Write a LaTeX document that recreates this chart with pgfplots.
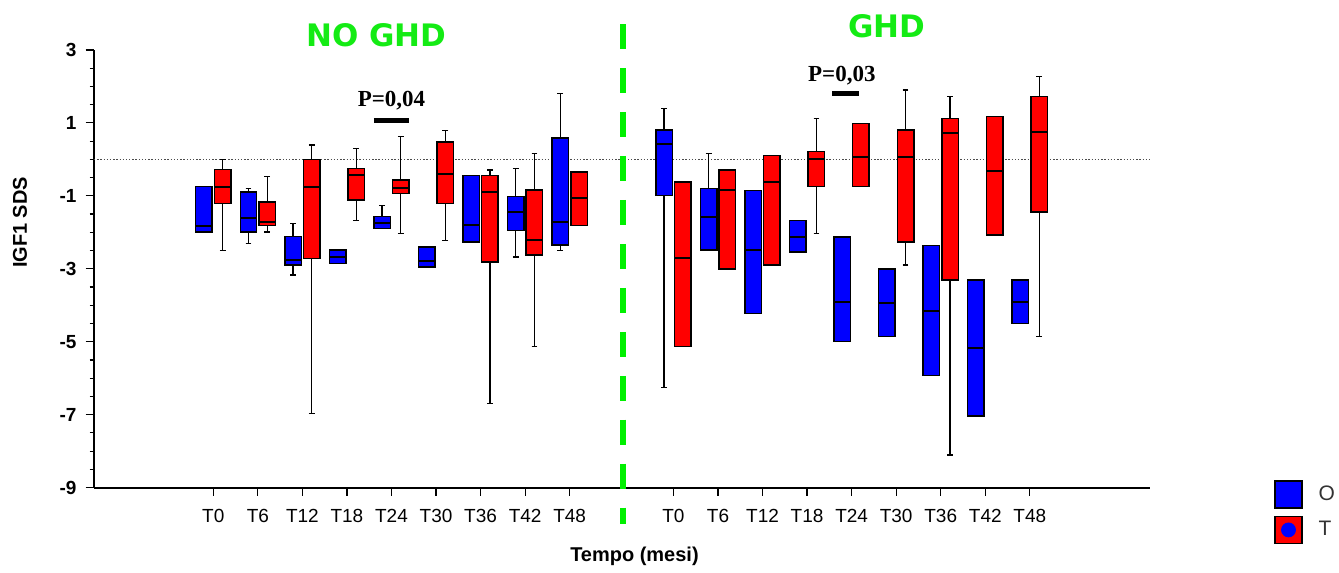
\documentclass[border=0pt]{standalone}
\usepackage{fontspec}
\setmainfont{Liberation Sans}
\newfontfamily\titlefont{DejaVu Sans}
\newfontfamily\pfont{Liberation Serif}
\usepackage{pgfplots}
\pgfplotsset{compat=1.18}
\usepgfplotslibrary{statistics}

\definecolor{boxblue}{RGB}{0,0,255}
\definecolor{boxred}{RGB}{255,0,0}
\definecolor{ghdgreen}{RGB}{20,235,20}
\definecolor{dashgreen}{RGB}{0,240,0}

% one prepared box: position, lower whisker, lower quartile, median, upper quartile, upper whisker, fill
\newcommand{\bx}[7]{%
  \addplot[boxplot prepared={draw direction=y, draw position=#1, lower whisker=#2,
      lower quartile=#3, median=#4, upper quartile=#5, upper whisker=#6},
    draw=black, fill=#7, line width=0.75pt, forget plot] coordinates {};}

\begin{document}
\begin{tikzpicture}
\begin{axis}[
  name=ax,
  x=22.29pt, y=18.25pt,
  xmin=-1.68, xmax=22.02, ymin=-9, ymax=3,
  axis x line*=bottom, axis y line*=left,
  axis line style={line width=1pt,-},
  ytick={-9,-7,-5,-3,-1,1,3},
  yticklabels={-9,-7,-5,-3,-1,1,3},
  minor y tick num=3,
  xtick={1,2,3,4,5,6,7,8,9,11.33,12.33,13.33,14.33,15.33,16.33,17.33,18.33,19.33},
  xticklabels={T0,T6,T12,T18,T24,T30,T36,T42,T48,T0,T6,T12,T18,T24,T30,T36,T42,T48},
  tick align=outside,
  major tick length=4.2pt, minor tick length=2.2pt,
  tick style={black, line width=0.6pt},
  yticklabel style={font=\bfseries\fontsize{9.5}{11}\selectfont, xshift=-1pt},
  xticklabel style={font=\fontsize{9.5}{11}\selectfont, yshift=-3pt},
  clip=false,
  boxplot/box extend=0.37,
  boxplot/whisker extend=0.13,
  boxplot/every whisker/.style={line width=0.65pt},
  boxplot/every median/.style={line width=1pt},
  legend style={at={(axis cs:24.81,-8.79)}, anchor=north west, draw=none, fill=none,
    inner sep=0pt, row sep=3.5pt, font=\fontsize{10.5}{12}\selectfont, text=black!80,
    /tikz/every odd column/.append style={column sep=6pt}},
  legend cell align=left,
]
% legend
\addlegendimage{legend image code/.code={%
  \draw[fill=boxblue, draw=black, line width=0.7pt] (0pt,-6.75pt) rectangle (13.5pt,6.75pt);}}
\addlegendentry{O}
\addlegendimage{legend image code/.code={%
  \draw[fill=boxred, draw=black, line width=0.7pt] (0pt,-6.75pt) rectangle (13.5pt,6.75pt);
  \fill[boxblue] (6.75pt,0pt) circle (3.5pt);}}
\addlegendentry{T}

% reference level at 0 SDS
\addplot[black!70, line width=0.5pt, dash pattern=on 0.7pt off 0.9pt, forget plot]
  coordinates {(-1.68,0) (22.02,0)};

% NO GHD: O (blue) and T (red)
\bx{0.79}{-1.99}{-1.99}{-1.84}{-0.75}{-0.75}{boxblue}
\bx{1.21}{-2.49}{-1.21}{-0.75}{-0.28}{0.00}{boxred}
\bx{1.79}{-2.30}{-1.99}{-1.62}{-0.89}{-0.79}{boxblue}
\bx{2.21}{-1.99}{-1.81}{-1.72}{-1.17}{-0.47}{boxred}
\bx{2.79}{-3.17}{-2.89}{-2.76}{-2.12}{-1.75}{boxblue}
\bx{3.21}{-6.97}{-2.72}{-0.75}{0.00}{0.39}{boxred}
\bx{3.79}{-2.86}{-2.86}{-2.67}{-2.48}{-2.48}{boxblue}
\bx{4.21}{-1.67}{-1.12}{-0.43}{-0.25}{0.30}{boxred}
\bx{4.79}{-1.90}{-1.90}{-1.75}{-1.57}{-1.26}{boxblue}
\bx{5.21}{-2.04}{-0.94}{-0.79}{-0.56}{0.62}{boxred}
\bx{5.79}{-2.95}{-2.95}{-2.80}{-2.40}{-2.40}{boxblue}
\bx{6.21}{-2.22}{-1.21}{-0.41}{0.48}{0.80}{boxred}
\bx{6.79}{-2.26}{-2.26}{-1.80}{-0.44}{-0.44}{boxblue}
\bx{7.21}{-6.69}{-2.81}{-0.89}{-0.44}{-0.29}{boxred}
\bx{7.79}{-2.68}{-1.95}{-1.43}{-1.02}{-0.26}{boxblue}
\bx{8.21}{-5.14}{-2.62}{-2.22}{-0.84}{0.16}{boxred}
\bx{8.79}{-2.49}{-2.35}{-1.71}{0.58}{1.81}{boxblue}
\bx{9.21}{-1.81}{-1.81}{-1.07}{-0.35}{-0.35}{boxred}

% GHD: O (blue) and T (red)
\bx{11.12}{-6.25}{-0.99}{0.43}{0.80}{1.40}{boxblue}
\bx{11.54}{-5.13}{-5.13}{-2.70}{-0.62}{-0.62}{boxred}
\bx{12.12}{-2.48}{-2.48}{-1.58}{-0.80}{0.16}{boxblue}
\bx{12.54}{-3.00}{-3.00}{-0.84}{-0.29}{-0.29}{boxred}
\bx{13.12}{-4.23}{-4.23}{-2.48}{-0.85}{-0.85}{boxblue}
\bx{13.54}{-2.90}{-2.90}{-0.62}{0.11}{0.11}{boxred}
\bx{14.12}{-2.54}{-2.54}{-2.13}{-1.67}{-1.67}{boxblue}
\bx{14.54}{-2.03}{-0.75}{0.02}{0.21}{1.12}{boxred}
\bx{15.12}{-5.00}{-5.00}{-3.91}{-2.13}{-2.13}{boxblue}
\bx{15.54}{-0.75}{-0.75}{0.06}{0.99}{0.99}{boxred}
\bx{16.12}{-4.86}{-4.86}{-3.95}{-3.00}{-3.00}{boxblue}
\bx{16.54}{-2.90}{-2.26}{0.07}{0.80}{1.90}{boxred}
\bx{17.12}{-5.92}{-5.92}{-4.17}{-2.36}{-2.36}{boxblue}
\bx{17.54}{-8.11}{-3.31}{0.71}{1.12}{1.72}{boxred}
\bx{18.12}{-7.03}{-7.03}{-5.18}{-3.31}{-3.31}{boxblue}
\bx{18.54}{-2.07}{-2.07}{-0.31}{1.17}{1.17}{boxred}
\bx{19.12}{-4.50}{-4.50}{-3.91}{-3.31}{-3.31}{boxblue}
\bx{19.54}{-4.86}{-1.44}{0.76}{1.72}{2.28}{boxred}

% significance bars
\addplot[black, line width=2.5pt, forget plot] coordinates {(4.607,1.077) (5.392,1.077)};
\addplot[black, line width=2.5pt, forget plot] coordinates {(14.89,1.80) (15.49,1.80)};

% separator between the two groups
\addplot[dashgreen, line width=3pt, dash pattern=on 12.5pt off 9.5pt, forget plot]
  coordinates {(10.2,3.71) (10.2,-10.0)};

% group titles, p-values and axis titles
\node[font=\titlefont\bfseries\fontsize{15.5}{18}\selectfont, text=ghdgreen]
  at (axis cs:4.66,3.40) {NO GHD};
\node[font=\titlefont\bfseries\fontsize{15.5}{18}\selectfont, text=ghdgreen]
  at (axis cs:16.12,3.65) {GHD};
\node[font=\pfont\bfseries\fontsize{11.5}{13}\selectfont] at (axis cs:5.0,1.60) {P=0,04};
\node[font=\pfont\bfseries\fontsize{11.5}{13}\selectfont] at (axis cs:15.11,2.30) {P=0,03};
\node[rotate=90, font=\bfseries\fontsize{10}{12}\selectfont]
  at ([xshift=-37pt]axis cs:-1.68,-1.73) {IGF1 SDS};
\node[font=\bfseries\fontsize{10}{12}\selectfont]
  at ([yshift=-34.5pt]axis cs:10.455,-9) {Tempo (mesi)};
\end{axis}
\path (ax.south west) ++(-47pt,-41pt) rectangle ++(669.5pt,285pt);
\end{tikzpicture}
\end{document}
